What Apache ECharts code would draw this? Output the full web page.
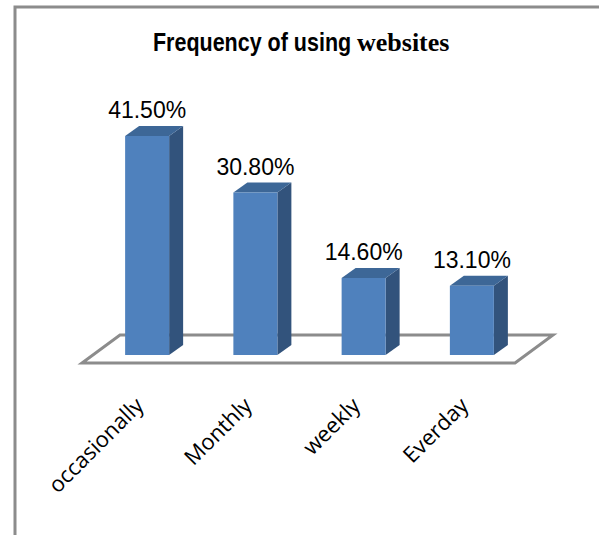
<!DOCTYPE html>
<html>
<head>
<meta charset="utf-8">
<script src="https://cdn.jsdelivr.net/npm/echarts@6/dist/echarts.min.js"></script>
<style>
  html, body { margin: 0; padding: 0; background: #fff; }
  #chart { width: 599px; height: 535px; }
</style>
</head>
<body>
<div id="chart"></div>
<script>
// Share of respondents by how often they use websites (%)
const categories = ['occasionally', 'Monthly', 'weekly', 'Everday'];
const shares = [41.5, 30.8, 14.6, 13.1];
const titleMain = 'Frequency of using';
const titleTail = 'websites';

const chart = echarts.init(document.getElementById('chart'), null, { renderer: 'svg' });

// 3D look: colours of the three visible faces and the depth offsets
const FRONT = '#4f81bd';
const SIDE = '#32537c';
const TOP = '#3d6797';
const BAR_DX = 14, BAR_DY = 10;        // bar depth
const FLOOR_DX = 38, FLOOR_DY = 28;    // floor depth
const FLOOR_IN_X = 11, FLOOR_IN_Y = 8; // bars stand a little behind the floor's front edge

function renderFloor(params, api) {
  const cs = params.coordSys;
  const y0 = api.coord([0, 0])[1];
  const fl = [cs.x - FLOOR_IN_X, y0 + FLOOR_IN_Y];
  const fr = [cs.x + cs.width - FLOOR_IN_X, y0 + FLOOR_IN_Y];
  const br = [fr[0] + FLOOR_DX, fr[1] - FLOOR_DY];
  const bl = [fl[0] + FLOOR_DX, fl[1] - FLOOR_DY];
  return {
    type: 'polygon',
    shape: { points: [fl, fr, br, bl] },
    style: { fill: '#fff', stroke: '#8c8c8c', lineWidth: 3, lineJoin: 'miter' }
  };
}

function renderBar(params, api) {
  const idx = api.value(0);
  const v = api.value(1);
  const base = api.coord([idx, 0]);
  const top = api.coord([idx, v]);
  const w = api.size([1, 0])[0] * 0.4065;
  const x0 = base[0] - w / 2, x1 = base[0] + w / 2;
  const y0 = base[1], y1 = top[1];
  return {
    type: 'group',
    children: [
      { type: 'polygon',
        shape: { points: [[x1, y0], [x1 + BAR_DX, y0 - BAR_DY], [x1 + BAR_DX, y1 - BAR_DY], [x1, y1]] },
        style: { fill: SIDE } },
      { type: 'polygon',
        shape: { points: [[x0, y1], [x1, y1], [x1 + BAR_DX, y1 - BAR_DY], [x0 + BAR_DX, y1 - BAR_DY]] },
        style: { fill: TOP } },
      { type: 'rect',
        shape: { x: x0, y: y1, width: w, height: y0 - y1 },
        style: { fill: FRONT } },
      { type: 'text',
        x: base[0], y: y1 - BAR_DY - 4,
        style: {
          text: v.toFixed(2) + '%',
          align: 'center', verticalAlign: 'bottom',
          fontSize: 23, fontFamily: '"Liberation Sans", Arial, sans-serif',
          fill: '#000'
        } }
    ]
  };
}

chart.setOption({
  animation: false,
  backgroundColor: '#fff',
  graphic: [
    {
      type: 'rect',
      shape: { x: 15, y: 7, width: 800, height: 800 },
      style: { fill: 'none', stroke: '#8c8c8c', lineWidth: 3 },
      silent: true
    },
    {
      // narrow bold sans part of the heading
      type: 'text',
      x: 153, y: 42,
      scaleX: 0.86,
      style: {
        text: titleMain,
        fontSize: 25, fontWeight: 'bold',
        fontFamily: '"Liberation Sans", Arial, sans-serif',
        fill: '#000', align: 'left', verticalAlign: 'middle'
      }
    },
    {
      type: 'text',
      x: 357, y: 42,
      style: {
        text: titleTail,
        fontSize: 26, fontWeight: 'bold',
        fontFamily: '"Liberation Serif", "Times New Roman", serif',
        fill: '#000', align: 'left', verticalAlign: 'middle'
      }
    }
  ],
  grid: { left: 93, right: 73, top: 117.5, bottom: 180 },
  xAxis: {
    type: 'category',
    data: categories,
    axisLine: { show: false },
    axisTick: { show: false },
    axisLabel: {
      rotate: 45,
      margin: 37,
      padding: [0, 12, 0, 0],
      fontSize: 22,
      fontFamily: '"Open Sans", sans-serif',
      color: '#000',
      interval: 0
    }
  },
  yAxis: {
    type: 'value',
    min: 0,
    max: 45,
    show: false,
    splitLine: { show: false }
  },
  series: [
    {
      type: 'custom',
      name: 'floor',
      z: 1,
      silent: true,
      data: [[0, 0]],
      renderItem: renderFloor
    },
    {
      type: 'custom',
      name: 'share',
      z: 2,
      data: shares.map((v, i) => [i, v]),
      encode: { x: 0, y: 1 },
      renderItem: renderBar
    }
  ]
});
</script>
</body>
</html>
